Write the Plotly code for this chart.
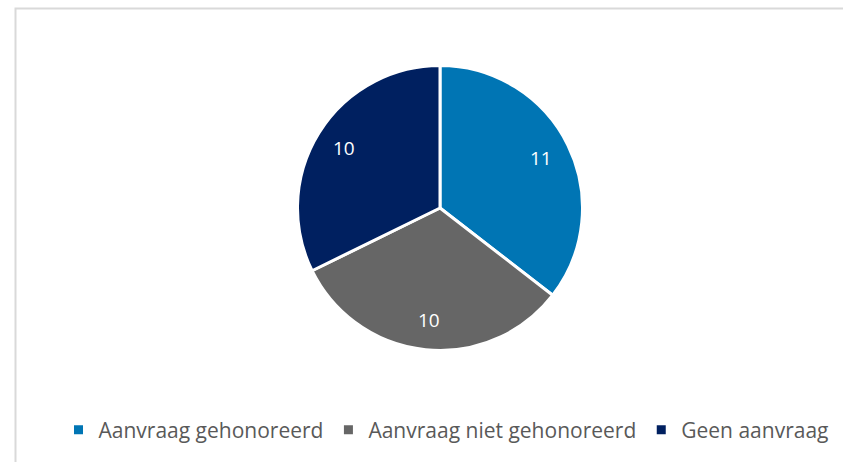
import math
import plotly.graph_objects as go

categories = ["Aanvraag gehonoreerd", "Aanvraag niet gehonoreerd", "Geen aanvraag"]
values = [11, 10, 10]
colors = ["#0075B4", "#666666", "#002060"]

W, H = 843, 462
cx, cy, r = 440, 208, 142.5
label_frac = 0.79

fig = go.Figure(go.Pie(
    labels=categories,
    values=values,
    sort=False,
    direction="clockwise",
    rotation=0,
    marker=dict(colors=colors, line=dict(color="white", width=3)),
    textinfo="none",
    domain=dict(x=[(cx - r) / W, (cx + r) / W], y=[1 - (cy + r) / H, 1 - (cy - r) / H]),
    hoverinfo="label+value",
))

# Data labels placed at the middle angle of each slice (computed from values)
total = sum(values)
cum = 0
annotations = []
for v in values:
    mid = (cum + v / 2) / total * 2 * math.pi
    cum += v
    px = cx + label_frac * r * math.sin(mid)
    py = cy - label_frac * r * math.cos(mid)
    annotations.append(dict(
        x=px / W, y=1 - py / H, xref="paper", yref="paper",
        text=str(v), showarrow=False,
        font=dict(family="Open Sans", size=19, color="white"),
        xanchor="center", yanchor="middle",
    ))

fig.update_layout(
    width=W, height=H,
    margin=dict(l=0, r=0, t=0, b=0),
    paper_bgcolor="white",
    font=dict(family="Open Sans", color="#595959"),
    showlegend=True,
    legend=dict(
        orientation="h",
        x=446 / W, xanchor="center",
        y=1 - 430 / H, yanchor="middle",
        font=dict(family="Open Sans", size=21, color="#595959"),
        traceorder="normal",
    ),
    annotations=annotations,
    shapes=[
        dict(type="rect", xref="paper", yref="paper",
             x0=15.5 / W, x1=1.2, y0=-0.2, y1=1 - 8.5 / H,
             line=dict(color="#D9D9D9", width=2), fillcolor="rgba(0,0,0,0)"),
    ],
)

fig.write_html(
    "out.html",
    config={"displayModeBar": False},
    post_script="document.body.style.margin='0';document.body.style.overflow='hidden';",
)
